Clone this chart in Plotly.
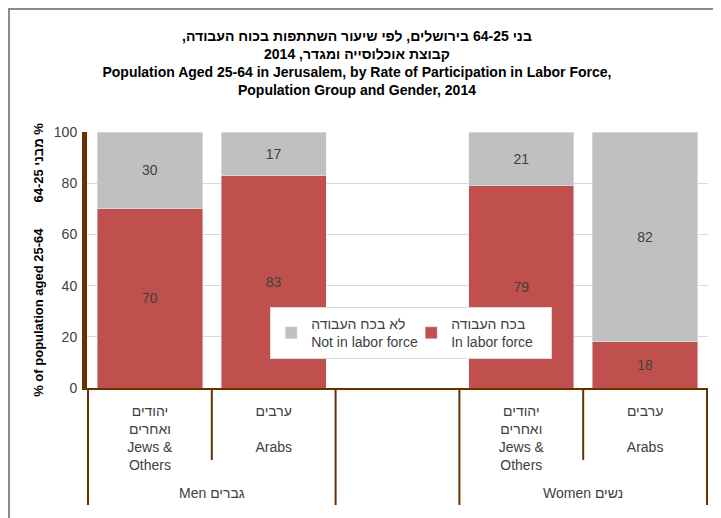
import plotly.graph_objects as go

# ---- data ----
cat_keys = ["men_jews", "men_arabs", "gap", "women_jews", "women_arabs"]
tick_labels = [
    "יהודים<br>ואחרים<br>Jews &<br>Others",
    "ערבים<br> <br>Arabs",
    "",
    "יהודים<br>ואחרים<br>Jews &<br>Others",
    "ערבים<br> <br>Arabs",
]
group_labels = ["Men גברים", "Women נשים"]
group_pos = [0.5, 3.5]
in_labor = [70, 83, None, 79, 18]
not_in_labor = [30, 17, None, 21, 82]

RED = "#C0504D"
GRAY = "#C0C0C0"
BROWN = "#663300"
TXT = "#404040"
FONT = "Liberation Sans, Arial, DejaVu Sans, sans-serif"


def rtl(s):
    # right-to-left embedding so Hebrew lines lay out like the original
    return "\u202b" + s + "\u202c"


def as_text(vals):
    return ["" if v is None else str(v) for v in vals]


fig = go.Figure()
fig.add_trace(go.Bar(
    x=cat_keys, y=in_labor, name=rtl("בכח העבודה") + "<br>In labor force",
    marker_color=RED, text=as_text(in_labor), textposition="inside",
    insidetextanchor="middle", textangle=0,
    textfont=dict(size=14, color=TXT, family=FONT),
))
fig.add_trace(go.Bar(
    x=cat_keys, y=not_in_labor, name=rtl("לא בכח העבודה") + "<br>Not in labor force",
    marker_color=GRAY, text=as_text(not_in_labor), textposition="inside",
    insidetextanchor="middle", textangle=0,
    textfont=dict(size=14, color=TXT, family=FONT),
))

title_lines = [
    rtl("בני 64-25 בירושלים, לפי שיעור השתתפות בכוח העבודה,"),
    rtl("קבוצת אוכלוסייה ומגדר, 2014"),
    "Population Aged 25-64 in Jerusalem, by Rate of Participation in Labor Force,",
    "Population Group and Gender, 2014",
]

# the page body adds an 8px offset, margins are set to compensate
fig.update_layout(
    width=721, height=518,
    margin=dict(l=79, r=21, t=124, b=138, autoexpand=False),
    paper_bgcolor="white", plot_bgcolor="white",
    barmode="stack", bargap=0.15,
    font=dict(family=FONT, size=14, color=TXT),
    title=dict(
        text="<br>".join(title_lines),
        font=dict(size=14, color="black", family=FONT, weight="bold"),
        x=0.484, xref="container", xanchor="center",
        y=0.937, yref="container", yanchor="top",
    ),
    showlegend=True,
    legend=dict(
        orientation="h", traceorder="reversed",
        x=0.295, y=0.316, xanchor="left", yanchor="top",
        bgcolor="white", bordercolor="#D9D9D9", borderwidth=1,
        font=dict(size=14, color=TXT, family=FONT),
        itemwidth=30, entrywidth=95,
    ),
)

fig.update_xaxes(
    type="category", categoryorder="array", categoryarray=cat_keys,
    tickvals=cat_keys, ticktext=tick_labels,
    ticks="", ticklabelstandoff=9, automargin=False,
    showline=True, linecolor=BROWN, linewidth=2,
    showgrid=False, zeroline=False,
    tickfont=dict(size=14, color=TXT, family=FONT),
)
fig.update_yaxes(
    range=[0, 100], dtick=20, tick0=0, automargin=False,
    showgrid=True, gridcolor="#D9D9D9", gridwidth=1,
    showline=True, linecolor=BROWN, linewidth=5,
    zeroline=False, ticks="", ticklabelstandoff=2,
    tickfont=dict(size=14, color=TXT, family=FONT),
    title=dict(
        text="% of population aged 25-64\u2003\u2003" + rtl("% מבני 64-25") + "\u2003\u2002",
        font=dict(size=13, color="black", family=FONT, weight="bold"),
        standoff=9,
    ),
)

# category divider lines below the axis
full_y, short_y = -0.457, -0.281
dividers = [(-0.5, full_y), (0.5, short_y), (1.5, full_y),
            (2.5, full_y), (3.5, short_y), (4.5, full_y)]
for xv, yb in dividers:
    fig.add_shape(type="line", xref="x", yref="paper", x0=xv, x1=xv, y0=0, y1=yb,
                  line=dict(color=BROWN, width=2))

for pos, lab in zip(group_pos, group_labels):
    fig.add_annotation(x=pos, xref="x", y=-0.41, yref="paper", text=lab,
                       showarrow=False, yanchor="middle",
                       font=dict(size=14, color=TXT, family=FONT))

# outer frame of the chart area
fig.add_shape(type="rect", xref="paper", yref="paper",
              x0=-0.1256, x1=1.06, y0=-0.6, y1=1.480,
              line=dict(color="#8C8C8C", width=2), fillcolor="rgba(0,0,0,0)",
              layer="below")

fig.write_html("out.html")
